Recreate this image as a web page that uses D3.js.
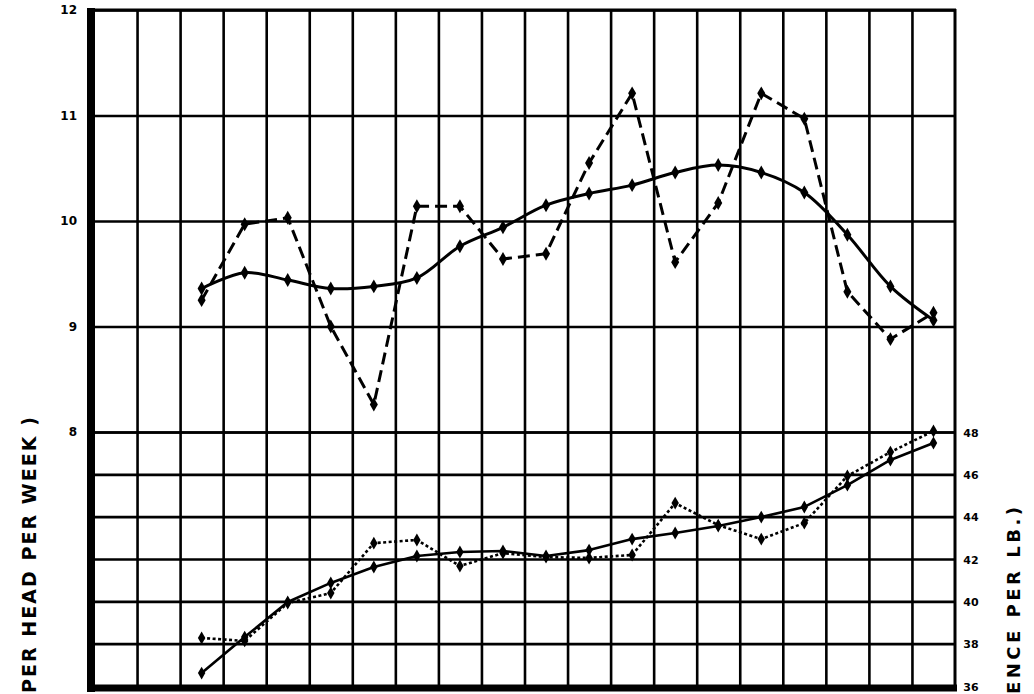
<!DOCTYPE html>
<html>
<head>
<meta charset="utf-8">
<script src="https://cdn.jsdelivr.net/npm/d3@7/dist/d3.min.js"></script>
<style>
  html, body { margin: 0; padding: 0; background: #fff; }
  svg { display: block; }
  text { font-family: "DejaVu Sans", "Liberation Sans", sans-serif; font-weight: bold; fill: #000; }
</style>
</head>
<body>
<script>
// ---- data ----
const periods = ["1","2","3","4","5","6","7","8","9","10","11","12","13","14","15","16","17","18"];
const columnCount = 20;          // grid columns
const firstColumn = 2;           // series begin in the third column

const consumptionSmooth = [9.36, 9.51, 9.44, 9.36, 9.38, 9.46, 9.76, 9.94, 10.15, 10.26, 10.34, 10.46, 10.53, 10.46, 10.27, 9.87, 9.38, 9.06];
const consumptionActual = [9.25, 9.97, 10.03, 9.00, 8.26, 10.14, 10.14, 9.64, 9.69, 10.55, 11.21, 9.61, 10.17, 11.21, 10.97, 9.33, 8.88, 9.13];
const priceSmooth = [36.61, 38.31, 39.97, 40.87, 41.62, 42.14, 42.33, 42.38, 42.14, 42.42, 42.94, 43.23, 43.56, 43.98, 44.46, 45.49, 46.68, 47.48];
const priceActual = [38.27, 38.13, 39.92, 40.39, 42.75, 42.90, 41.67, 42.28, 42.09, 42.05, 42.19, 44.64, 43.60, 42.94, 43.70, 45.92, 47.05, 48.05];

const leftTicks = [8, 9, 10, 11, 12];
const rightTicks = [36, 38, 40, 42, 44, 46, 48];
const leftTitle = "PER HEAD PER WEEK )";
const rightTitle = "ENCE PER LB.)";

// ---- layout ----
const W = 1034, H = 694;
const svg = d3.select("body").append("svg").attr("width", W).attr("height", H);

const x = d3.scaleLinear().domain([0, columnCount]).range([94, 955]);
const yLeft = d3.scaleLinear().domain([8, 12]).range([432, 10]);
const yRight = d3.scaleLinear().domain([36, 48]).range([686, 432]);
const px = i => x(firstColumn + i + 0.5);

// vertical gridlines
const vgrid = svg.append("g").attr("transform", `translate(0,${yRight(36)})`)
  .call(d3.axisBottom(x).tickValues(d3.range(1, columnCount)).tickSize(-(yRight(36) - yLeft(12))).tickFormat(""));
vgrid.select(".domain").remove();
vgrid.selectAll("line").attr("stroke", "#000").attr("stroke-width", 2.6);

// horizontal gridlines (upper, left scale)
const hgridL = svg.append("g").attr("transform", `translate(${x(0)},0)`)
  .call(d3.axisLeft(yLeft).tickValues(leftTicks).tickSize(-(x(columnCount) - x(0))).tickFormat(""));
hgridL.select(".domain").remove();
hgridL.selectAll("line").attr("stroke", "#000").attr("stroke-width", 2.6);

// horizontal gridlines (lower, right scale)
const hgridR = svg.append("g").attr("transform", `translate(${x(columnCount)},0)`)
  .call(d3.axisRight(yRight).tickValues(rightTicks).tickSize(-(x(columnCount) - x(0))).tickFormat(""));
hgridR.select(".domain").remove();
hgridR.selectAll("line").attr("stroke", "#000").attr("stroke-width", 2.6);

// frame
svg.append("line").attr("x1", 91).attr("x2", 91).attr("y1", 8).attr("y2", 692).attr("stroke", "#000").attr("stroke-width", 8);
svg.append("line").attr("x1", 87).attr("x2", 957).attr("y1", 688).attr("y2", 688).attr("stroke", "#000").attr("stroke-width", 7);
svg.append("line").attr("x1", 87).attr("x2", 956).attr("y1", 10).attr("y2", 10).attr("stroke", "#000").attr("stroke-width", 3);
svg.append("line").attr("x1", 955).attr("x2", 955).attr("y1", 9).attr("y2", 688).attr("stroke", "#000").attr("stroke-width", 3);

// tick labels
svg.append("g").selectAll("text").data(leftTicks).join("text")
  .attr("x", 77).attr("y", d => yLeft(d)).attr("text-anchor", "end")
  .attr("dominant-baseline", "central").attr("font-size", 12).text(d => d);
svg.append("g").selectAll("text").data(rightTicks).join("text")
  .attr("x", 971).attr("y", d => yRight(d) + 1).attr("text-anchor", "middle")
  .attr("dominant-baseline", "central").attr("font-size", 11).text(d => d);

// axis titles (rotated)
svg.append("text").attr("transform", "translate(29,693) rotate(-90)")
  .attr("dominant-baseline", "central").attr("font-size", 19)
  .attr("textLength", 276).attr("lengthAdjust", "spacing").text(leftTitle);
svg.append("text").attr("transform", "translate(1013,694) rotate(-90)")
  .attr("dominant-baseline", "central").attr("font-size", 18)
  .attr("textLength", 187).attr("lengthAdjust", "spacing").text(rightTitle);

// series
function drawSeries(values, yScale, curve, width, dash, size) {
  const line = d3.line().x((d, i) => px(i)).y(d => yScale(d)).curve(curve);
  svg.append("path").datum(values).attr("d", line)
    .attr("fill", "none").attr("stroke", "#000").attr("stroke-width", width)
    .attr("stroke-dasharray", dash).attr("stroke-linejoin", "round");
  svg.append("g").selectAll("path").data(values).join("path")
    .attr("d", d3.symbol(d3.symbolDiamond, size))
    .attr("transform", (d, i) => `translate(${px(i)},${yScale(d)})`)
    .attr("fill", "#000");
}

drawSeries(consumptionSmooth, yLeft, d3.curveCatmullRom, 3, null, 56);
drawSeries(consumptionActual, yLeft, d3.curveLinear, 3, "12,6", 56);
drawSeries(priceSmooth, yRight, d3.curveLinear, 2.6, null, 48);
drawSeries(priceActual, yRight, d3.curveLinear, 2.6, "3,2.5", 48);
</script>
</body>
</html>
